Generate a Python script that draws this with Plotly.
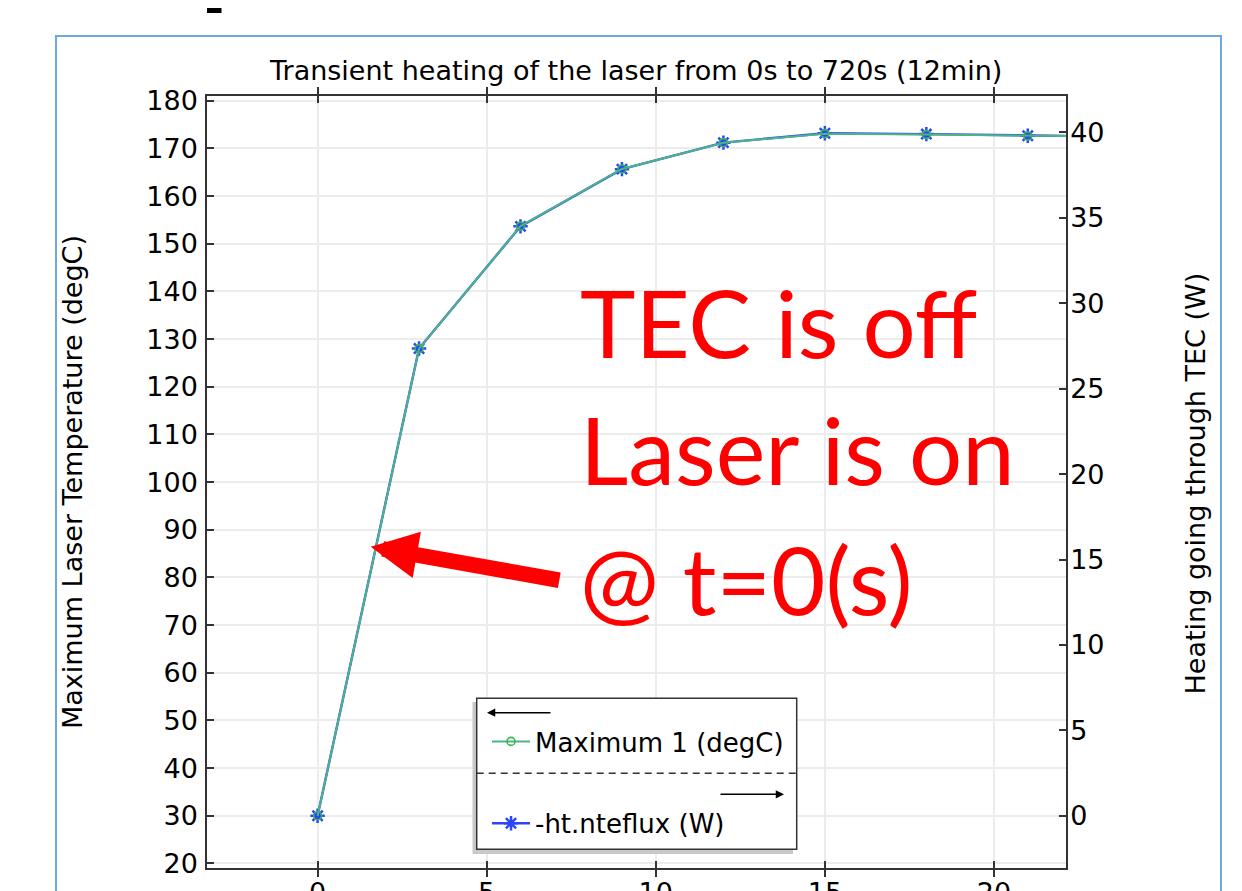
import plotly.graph_objects as go

# ---------------- data ----------------
time_x = [0, 3, 6, 9, 12, 15, 18, 21, 24]
temp_degC = [30.0, 128.0, 153.7, 165.7, 171.2, 173.1, 172.9, 172.6, 172.5]
heat_W = [0.0, 27.35, 34.5, 37.85, 39.4, 39.95, 39.9, 39.8, 39.75]

x_ticks = [0, 5, 10, 15, 20]
y_ticks = list(range(20, 181, 10))
y2_ticks = [0, 5, 10, 15, 20, 25, 30, 35, 40]

title_text = "Transient heating of the laser from 0s to 720s (12min)"
ylabel = "Maximum Laser Temperature (degC)"
y2label = "Heating going through TEC (W)"
name_temp = "Maximum 1 (degC)"
name_heat = "-ht.nteflux (W)"
note_lines = ["TEC is off", "Laser is on", "@ t=0(s)"]

# ---------------- geometry (screen px) ----------------
OFF = 8                      # page body margin
SW, SH = 1242, 891
W, H = SW - OFF, SH - OFF
PL, PR, PT, PB = 207, 1066, 96, 868   # plot area in screen px
ML, MR, MT, MB = PL - OFF, SW - PR, PT - OFF, SH - PB
PW = PR - PL
PH = PB - PT


def px(x):
    return (x - PL) / PW


def py(y):
    return (PB - y) / PH


FONT = "DejaVu Sans"
fs = 27

fig = go.Figure()

# heating (W) lives on the main y axis (drawn on the right side)
fig.add_trace(go.Scatter(
    x=time_x, y=heat_W, yaxis="y", name=name_heat, mode="lines+markers",
    line=dict(color="#2b45ff", width=2.4),
    marker=dict(symbol="asterisk-open", size=12, color="#2b45ff",
                line=dict(color="#2b45ff", width=2.5)),
    legendgroup="b", legendrank=2,
))
# temperature (degC) on the overlaying left axis, drawn on top
fig.add_trace(go.Scatter(
    x=time_x, y=temp_degC, yaxis="y2", name=name_temp, mode="lines+markers",
    line=dict(color="#4db585", width=2),
    marker=dict(symbol="circle-open", size=8, color="#3cb84a",
                line=dict(color="#3cb84a", width=1.6)),
    legendgroup="a", legendrank=1,
))

axis_common = dict(
    showline=True, linecolor="#333333", linewidth=1.5,
    ticks="inside", ticklen=7, tickwidth=1.5, tickcolor="#333333",
    tickfont=dict(family=FONT, size=fs, color="black"),
    zeroline=False, automargin=False,
)

fig.update_layout(
    width=W, height=H,
    margin=dict(l=ML, r=MR, t=MT, b=MB, autoexpand=False),
    paper_bgcolor="white", plot_bgcolor="white",
    font=dict(family=FONT, size=fs, color="black"),
    xaxis=dict(range=[-3.27, 22.13], tickvals=x_ticks, mirror="allticks",
               showgrid=True, gridcolor="#ececec", gridwidth=2,
               ticklabelstandoff=0, **axis_common),
    yaxis=dict(range=[-3.055, 42.13], tickvals=y2_ticks, side="right",
               showgrid=False, ticklabelstandoff=-3, **axis_common),
    yaxis2=dict(range=[19.05, 181.0], tickvals=y_ticks, overlaying="y",
                side="left", showgrid=True, gridcolor="#ececec", gridwidth=2,
                ticklabelstandoff=2, **axis_common),
    showlegend=True,
    legend=dict(x=px(487), y=py(718), xanchor="left", yanchor="top",
                bgcolor="rgba(0,0,0,0)", borderwidth=0, itemwidth=38,
                traceorder="grouped", tracegroupgap=45,
                font=dict(family=FONT, size=26, color="black")),
)

shapes = []
# outer light-blue frame
shapes.append(dict(type="rect", xref="paper", yref="paper",
                   x0=px(56), x1=px(1221), y0=py(36), y1=py(905),
                   line=dict(color="#6fa8dc", width=2), layer="below"))
# black blob at top
shapes.append(dict(type="rect", xref="paper", yref="paper",
                   x0=px(207), x1=px(221.5), y0=py(-2), y1=py(13),
                   fillcolor="black", line=dict(width=0)))
# legend box shadow and box
shapes.append(dict(type="rect", xref="paper", yref="paper",
                   x0=px(472.5), x1=px(793), y0=py(702), y1=py(854),
                   fillcolor="#c9c9c9", line=dict(width=0), layer="above"))
shapes.append(dict(type="rect", xref="paper", yref="paper",
                   x0=px(476.7), x1=px(796.7), y0=py(698.3), y1=py(849.3),
                   fillcolor="white", line=dict(color="#333333", width=1.5),
                   layer="above"))
shapes.append(dict(type="line", xref="paper", yref="paper",
                   x0=px(476.7), x1=px(796.7), y0=py(773.3), y1=py(773.3),
                   line=dict(color="#333333", width=1.5, dash="7px,5px"),
                   layer="above"))
fig.update_layout(shapes=shapes)

ann = []
ann.append(dict(text=title_text, xref="paper", yref="paper", x=px(635), y=py(70),
                xanchor="center", yanchor="middle", showarrow=False,
                font=dict(family=FONT, size=fs, color="black")))
ann.append(dict(text=ylabel, xref="paper", yref="paper", x=px(72.5), y=py(482.5),
                xanchor="center", yanchor="middle", textangle=-90, showarrow=False,
                font=dict(family=FONT, size=fs, color="black")))
ann.append(dict(text=y2label, xref="paper", yref="paper", x=px(1195), y=py(483.5),
                xanchor="center", yanchor="middle", textangle=-90, showarrow=False,
                font=dict(family=FONT, size=fs, color="black")))
# legend direction arrows
ann.append(dict(text="", xref="paper", yref="paper", x=px(487), y=py(712.7),
                ax=65, ay=0, axref="pixel", ayref="pixel", showarrow=True,
                arrowhead=2, arrowsize=1.1, arrowwidth=1.5, arrowcolor="black"))
ann.append(dict(text="", xref="paper", yref="paper", x=px(784), y=py(794.3),
                ax=-65, ay=0, axref="pixel", ayref="pixel", showarrow=True,
                arrowhead=2, arrowsize=1.1, arrowwidth=1.5, arrowcolor="black"))
# red notes
note_y = [321.5, 449, 578]
for txt, yy in zip(note_lines, note_y):
    ann.append(dict(text=txt, xref="paper", yref="paper", x=px(578), y=py(yy),
                    xanchor="left", yanchor="middle", showarrow=False,
                    font=dict(family="Lato", size=94, color="#ff0000")))
# red arrow
ann.append(dict(text="", xref="paper", yref="paper", x=px(370.7), y=py(546.7),
                ax=190.1, ay=33.8, axref="pixel", ayref="pixel", showarrow=True,
                arrowhead=2, arrowsize=0.6, arrowwidth=15.6, arrowcolor="#ff0000"))
fig.update_layout(annotations=ann)

fig.write_html("out.html")
